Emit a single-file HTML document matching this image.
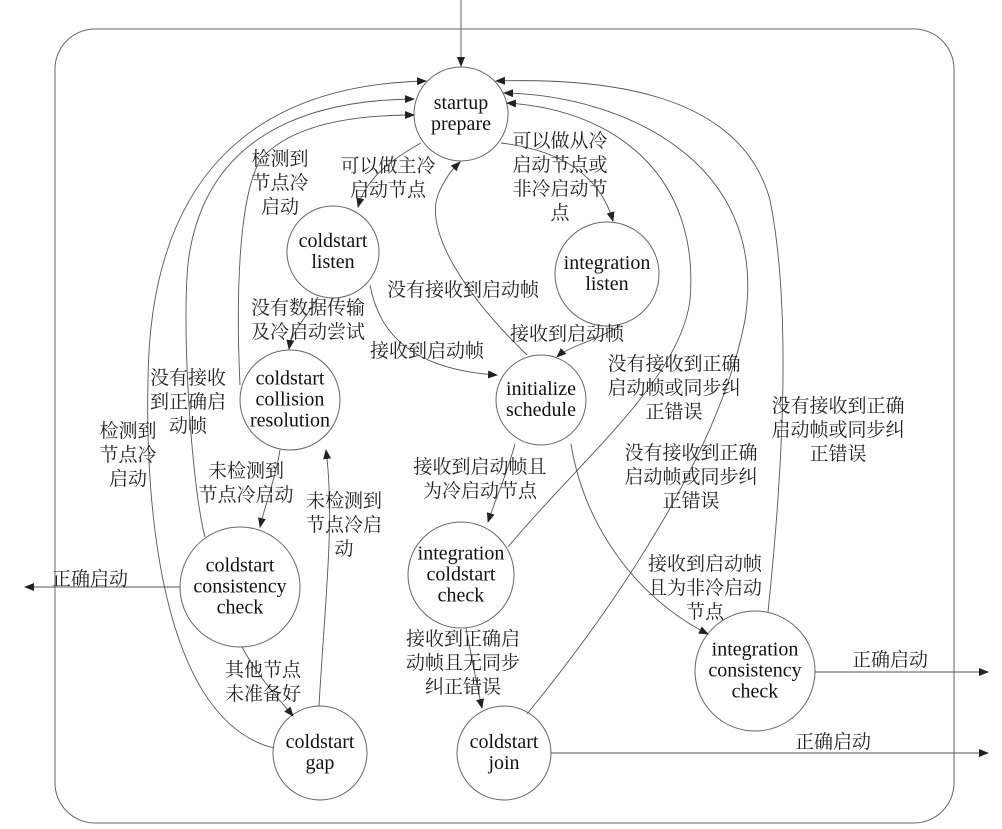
<!DOCTYPE html>
<html><head><meta charset="utf-8"><style>
body{margin:0;background:#fff;}
#c{position:relative;width:1002px;height:829px;overflow:hidden;background:#fff;}
svg{position:absolute;left:0;top:0;}
.l{position:absolute;font-family:"Noto Serif CJK SC","Liberation Serif","Noto Sans CJK SC",serif;font-size:19px;line-height:24px;color:#222;text-align:center;white-space:nowrap;transform:translateX(-50%);}
.n{position:absolute;font-family:"Liberation Serif","DejaVu Serif",serif;font-size:20px;line-height:21px;color:#111;text-align:center;white-space:nowrap;transform:translate(-50%,-50%);}
</style></head><body><div id="c">
<svg width="1002" height="829" viewBox="0 0 1002 829">
<defs><marker id="a" markerWidth="10" markerHeight="8" refX="9" refY="4" orient="auto" markerUnits="userSpaceOnUse"><path d="M0,0 L10,4 L0,8 z" fill="#222"/></marker></defs>
<g fill="none" stroke="#666" stroke-width="1">
<rect x="55" y="29" width="899" height="794" rx="40" ry="40"/>
<circle cx="461" cy="114" r="47"/>
<circle cx="333" cy="252" r="46"/>
<circle cx="607" cy="274" r="52"/>
<circle cx="290" cy="400" r="50"/>
<circle cx="541" cy="400" r="45"/>
<circle cx="461" cy="575" r="53"/>
<circle cx="240" cy="587" r="60"/>
<circle cx="755" cy="671" r="60"/>
<circle cx="320" cy="753" r="47"/>
<circle cx="504" cy="753" r="47"/>
</g>
<g fill="none" stroke="#555" stroke-width="0.9" marker-end="url(#a)">
<path d="M461,0 L461,66"/>
<path d="M274,748 C160,720 145,500 148,380 C150,180 250,85 426,81"/>
<path d="M205,537 C190,480 180,300 190,250 C210,140 300,100 414,99"/>
<path d="M240,385 C236,300 238,200 260,160 C290,125 350,115 414,115"/>
<path d="M768,612 C785,450 790,300 770,200 C740,90 600,78 496,81"/>
<path d="M527,714 C620,600 720,450 745,320 C770,160 620,95 504,93"/>
<path d="M508,547 C580,460 680,380 690,300 C700,180 620,110 507,103"/>
<path d="M421,143 C390,160 365,180 358,207"/>
<path d="M501,143 C560,150 600,175 613,221"/>
<path d="M318,297 C305,320 292,330 289,349"/>
<path d="M370,285 C380,340 420,370 497,375"/>
<path d="M527,355 C470,300 420,230 440,190 C450,170 456,166 460,162"/>
<path d="M620,325 C600,340 570,345 557,357"/>
<path d="M515,444 C505,480 495,500 488,522"/>
<path d="M571,444 C585,530 640,600 708,634"/>
<path d="M280,450 C275,480 265,505 260,527"/>
<path d="M319,706 C325,600 335,520 326,450"/>
<path d="M242,647 C260,680 280,700 293,716"/>
<path d="M466,628 C472,660 478,690 482,708"/>
<path d="M180,587 L25,587"/>
<path d="M815,672 L988,672"/>
<path d="M551,753 L988,753"/>
</g>
</svg>
<div class="n" style="left:461px;top:114px">startup<br>prepare</div>
<div class="n" style="left:333px;top:252px">coldstart<br>listen</div>
<div class="n" style="left:607px;top:274px">integration<br>listen</div>
<div class="n" style="left:290px;top:400px">coldstart<br>collision<br>resolution</div>
<div class="n" style="left:541px;top:400px">initialize<br>schedule</div>
<div class="n" style="left:461px;top:575px">integration<br>coldstart<br>check</div>
<div class="n" style="left:240px;top:587px">coldstart<br>consistency<br>check</div>
<div class="n" style="left:755px;top:671px">integration<br>consistency<br>check</div>
<div class="n" style="left:320px;top:753px">coldstart<br>gap</div>
<div class="n" style="left:504px;top:753px">coldstart<br>join</div>

<div class="l" style="left:280px;top:146px">检测到<br>节点冷<br>启动</div>
<div class="l" style="left:388px;top:153px">可以做主冷<br>启动节点</div>
<div class="l" style="left:560px;top:128px">可以做从冷<br>启动节点或<br>非冷启动节<br>点</div>
<div class="l" style="left:463px;top:277px">没有接收到启动帧</div>
<div class="l" style="left:308px;top:295px">没有数据传输<br>及冷启动尝试</div>
<div class="l" style="left:427px;top:338px">接收到启动帧</div>
<div class="l" style="left:567px;top:321px">接收到启动帧</div>
<div class="l" style="left:188px;top:365px">没有接收<br>到正确启<br>动帧</div>
<div class="l" style="left:674px;top:351px">没有接收到正确<br>启动帧或同步纠<br>正错误</div>
<div class="l" style="left:838px;top:393px">没有接收到正确<br>启动帧或同步纠<br>正错误</div>
<div class="l" style="left:128px;top:418px">检测到<br>节点冷<br>启动</div>
<div class="l" style="left:246px;top:458px">未检测到<br>节点冷启动</div>
<div class="l" style="left:480px;top:454px">接收到启动帧且<br>为冷启动节点</div>
<div class="l" style="left:691px;top:440px">没有接收到正确<br>启动帧或同步纠<br>正错误</div>
<div class="l" style="left:344px;top:488px">未检测到<br>节点冷启<br>动</div>
<div class="l" style="left:90px;top:566px">正确启动</div>
<div class="l" style="left:705px;top:551px">接收到启动帧<br>且为非冷启动<br>节点</div>
<div class="l" style="left:263px;top:657px">其他节点<br>未准备好</div>
<div class="l" style="left:463px;top:626px">接收到正确启<br>动帧且无同步<br>纠正错误</div>
<div class="l" style="left:890px;top:647px">正确启动</div>
<div class="l" style="left:833px;top:729px">正确启动</div>
</div></body></html>
